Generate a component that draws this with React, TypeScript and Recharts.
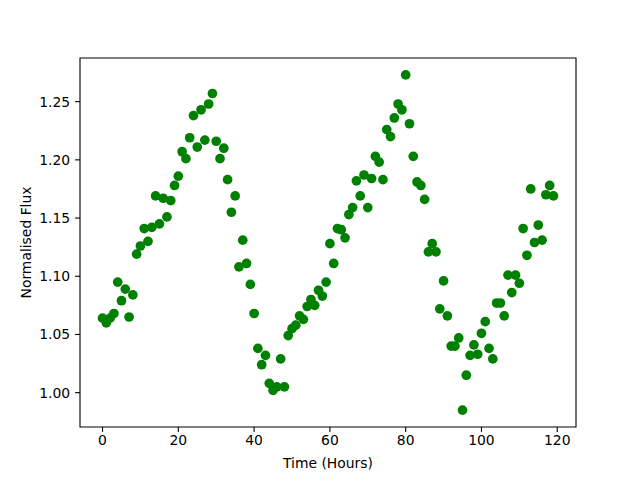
import React from 'react';
import { ScatterChart, Scatter, XAxis, YAxis, ReferenceArea, Label } from 'recharts';

const hours = [
  0, 1, 2, 3, 4, 5, 6, 7, 8, 9, 10, 11, 12, 13, 14, 15, 16, 17, 18, 19,
  20, 21, 22, 23, 24, 25, 26, 27, 28, 29, 30, 31, 32, 33, 34, 35, 36, 37, 38, 39,
  40, 41, 42, 43, 44, 45, 46, 47, 48, 49, 50, 51, 52, 53, 54, 55, 56, 57, 58, 59,
  60, 61, 62, 63, 64, 65, 66, 67, 68, 69, 70, 71, 72, 73, 74, 75, 76, 77, 78, 79,
  80, 81, 82, 83, 84, 85, 86, 87, 88, 89, 90, 91, 92, 93, 94, 95, 96, 97, 98, 99,
  100, 101, 102, 103, 104, 105, 106, 107, 108, 109, 110, 111, 112, 113, 114, 115, 116, 117, 118, 119,
];

const flux = [
  1.064, 1.060, 1.064, 1.068, 1.095, 1.079, 1.089, 1.065, 1.084, 1.119,
  1.126, 1.141, 1.130, 1.142, 1.169, 1.145, 1.167, 1.151, 1.165, 1.178,
  1.186, 1.207, 1.201, 1.219, 1.238, 1.211, 1.243, 1.217, 1.248, 1.257,
  1.216, 1.201, 1.210, 1.183, 1.155, 1.169, 1.108, 1.131, 1.111, 1.093,
  1.068, 1.038, 1.024, 1.032, 1.008, 1.002, 1.005, 1.029, 1.005, 1.049,
  1.055, 1.058, 1.066, 1.063, 1.074, 1.080, 1.075, 1.088, 1.083, 1.095,
  1.128, 1.111, 1.141, 1.140, 1.133, 1.153, 1.159, 1.182, 1.169, 1.187,
  1.159, 1.184, 1.203, 1.198, 1.183, 1.226, 1.220, 1.236, 1.248, 1.243,
  1.273, 1.231, 1.203, 1.181, 1.178, 1.166, 1.121, 1.128, 1.121, 1.072,
  1.096, 1.066, 1.040, 1.040, 1.047, 0.985, 1.015, 1.032, 1.041, 1.033,
  1.051, 1.061, 1.038, 1.029, 1.077, 1.077, 1.066, 1.101, 1.086, 1.101,
  1.094, 1.141, 1.118, 1.175, 1.129, 1.144, 1.131, 1.170, 1.178, 1.169,
];

const xTicks = [0, 20, 40, 60, 80, 100, 120];
const yTicks = [1.0, 1.05, 1.1, 1.15, 1.2, 1.25];
const xDomain: [number, number] = [-5.95, 124.95];
const yDomain: [number, number] = [0.9705, 1.2875];

const xLabel = 'Time (Hours)';
const yLabel = 'Normalised Flux';

const data = hours.map((t, i) => ({ t, f: flux[i] }));

const FONT = 'DejaVu Sans';
const FS = 13.9;

const Dot = (props: any) => {
  const { cx, cy } = props;
  if (cx == null || cy == null) return null;
  return <circle cx={cx} cy={cy} r={4.85} fill="#008000" />;
};

export default function App() {
  return (
    <div style={{ position: 'absolute', left: 0, top: 0, width: 640, height: 480, background: '#fff' }}>
      <ScatterChart
        width={640}
        height={480}
        margin={{ top: 58, right: 64, bottom: 0, left: 0 }}
        style={{ fontFamily: FONT }}
      >
        <XAxis
          type="number"
          dataKey="t"
          domain={xDomain}
          ticks={xTicks}
          allowDataOverflow
          height={53}
          tickSize={4.9}
          tickMargin={3}
          tick={{ fill: '#000', fontSize: FS, fontFamily: FONT }}
          tickLine={{ stroke: '#000', strokeWidth: 1.1 }}
          axisLine={false}
        >
          <Label
            content={(p: any) => {
              const vb = p.viewBox || {};
              return (
                <text
                  x={vb.x + vb.width / 2}
                  y={468}
                  textAnchor="middle"
                  fontFamily={FONT}
                  fontSize={FS}
                  fill="#000"
                >
                  {xLabel}
                </text>
              );
            }}
          />
        </XAxis>
        <YAxis
          type="number"
          dataKey="f"
          domain={yDomain}
          ticks={yTicks}
          allowDataOverflow
          width={80}
          tickSize={4.9}
          tickMargin={4.9}
          tickFormatter={(v: number) => v.toFixed(2)}
          tick={{ fill: '#000', fontSize: FS, fontFamily: FONT }}
          tickLine={{ stroke: '#000', strokeWidth: 1.1 }}
          axisLine={false}
        >
          <Label
            content={(p: any) => {
              const vb = p.viewBox || {};
              const cy = vb.y + vb.height / 2;
              return (
                <text
                  x={26}
                  y={cy}
                  transform={`rotate(-90, 26, ${cy})`}
                  textAnchor="middle"
                  dominantBaseline="central"
                  fontFamily={FONT}
                  fontSize={FS}
                  fill="#000"
                >
                  {yLabel}
                </text>
              );
            }}
          />
        </YAxis>
        <ReferenceArea
          x1={xDomain[0]}
          x2={xDomain[1]}
          y1={yDomain[0]}
          y2={yDomain[1]}
          fill="none"
          fillOpacity={0}
          stroke="#000"
          strokeWidth={1.1}
          ifOverflow="visible"
        />
        <Scatter data={data} shape={Dot} isAnimationActive={false} />
      </ScatterChart>
    </div>
  );
}
